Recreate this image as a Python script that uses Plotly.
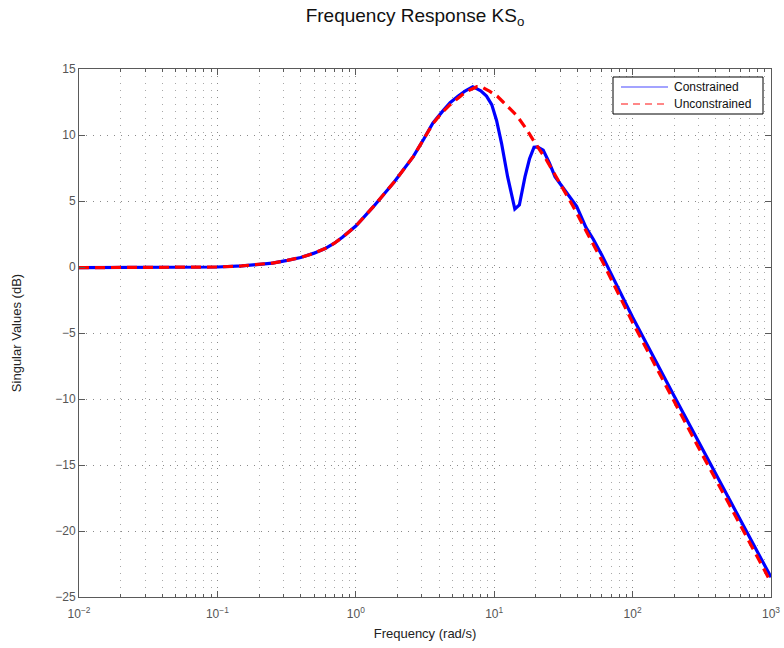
import plotly.graph_objects as go

# Singular values of KS_o, constrained design
freq_con = [0.01, 0.02, 0.05, 0.1, 0.15, 0.2, 0.25, 0.32, 0.4, 0.5, 0.6, 0.7, 0.8,
            1.0, 1.34, 1.9, 2.6, 3.1, 3.6, 4.2, 4.8, 5.5, 6.2, 7.0, 8.0, 8.8, 9.6,
            10.4, 11.3, 12.5, 13.4, 14.1, 15.2, 16.7, 18.0, 19.4, 20.5, 22.6, 25.0,
            27.5, 33.0, 39.4, 46.0, 52.0, 60.0, 100.0, 200.0, 300.0, 500.0, 1000.0]
sv_con = [-0.05, -0.05, -0.04, 0.0, 0.08, 0.18, 0.3, 0.5, 0.72, 1.05, 1.4, 1.8, 2.25,
          3.1, 4.57, 6.46, 8.36, 9.7, 10.9, 11.75, 12.45, 12.95, 13.35, 13.66, 13.35, 12.95, 12.3,
          11.1, 9.37, 6.84, 5.3, 4.39, 4.7, 6.84, 8.2, 9.07, 9.1, 8.86, 7.9,
          6.84, 5.7, 4.6, 3.0, 2.1, 0.9, -3.8, -9.8, -13.3, -17.6, -23.5]

# Singular values of KS_o, unconstrained design
freq_unc = [0.01, 0.02, 0.05, 0.1, 0.15, 0.2, 0.25, 0.32, 0.4, 0.5, 0.6, 0.7, 0.8,
            1.0, 1.34, 1.9, 2.6, 3.1, 3.6, 4.2, 4.8, 5.5, 6.2, 7.5, 8.1, 9.3, 10.5,
            11.6, 13.0, 14.5, 17.2, 19.7, 23.9, 29.9, 37.3, 47.9, 60.0, 100.0, 200.0,
            300.0, 500.0, 1000.0]
sv_unc = [-0.05, -0.05, -0.04, 0.0, 0.08, 0.18, 0.3, 0.5, 0.72, 1.05, 1.4, 1.8, 2.25,
          3.1, 4.57, 6.46, 8.36, 9.7, 10.85, 11.7, 12.3, 12.8, 13.25, 13.66, 13.65, 13.3, 12.95,
          12.5, 12.0, 11.5, 10.4, 9.4, 8.1, 6.34, 4.57, 2.4, 0.5, -4.2, -10.2,
          -13.7, -18.0, -23.9]

series_names = ["Constrained", "Unconstrained"]
series_colors = ["#0000ff", "#ff0000"]

x_tickvals = [0.01, 0.1, 1, 10, 100, 1000]
x_ticktext = ["10<sup>−2</sup>", "10<sup>−1</sup>", "10<sup>0</sup>",
              "10<sup>1</sup>", "10<sup>2</sup>", "10<sup>3</sup>"]
y_tickvals = [-25, -20, -15, -10, -5, 0, 5, 10, 15]

FONT = "Liberation Sans, Arial, Helvetica, sans-serif"
AXIS_COLOR = "#5a5a5a"
GRID_MAJOR = "#8a8a8a"
GRID_MINOR = "#a8a8a8"

W, H = 784, 648
L, R, T, B = 79, 13, 69, 51
PW, PH = W - L - R, H - T - B


def px_x(p):
    """pixel column -> paper x"""
    return (p - L) / PW


def px_y(p):
    """pixel row -> paper y"""
    return (H - B - p) / PH


fig = go.Figure()

fig.add_trace(go.Scatter(x=freq_con, y=sv_con, mode="lines", name=series_names[0],
                         line=dict(color=series_colors[0], width=3.2),
                         showlegend=False))
fig.add_trace(go.Scatter(x=freq_unc, y=sv_unc, mode="lines", name=series_names[1],
                         line=dict(color=series_colors[1], width=3.2, dash="10px,6px"),
                         showlegend=False))

# boxed legend in the upper-right corner, thin line samples
shapes = [dict(type="rect", xref="paper", yref="paper",
               x0=px_x(613), x1=px_x(763), y0=px_y(114), y1=px_y(77),
               line=dict(color="black", width=1), fillcolor="white", layer="above")]
annotations = []
legend_rows = [87, 104]
sample_styles = [dict(color="#4848ff", width=1.2),
                 dict(color="#ff6060", width=1.5, dash="7px,5px")]
for name, row, style in zip(series_names, legend_rows, sample_styles):
    shapes.append(dict(type="line", xref="paper", yref="paper",
                       x0=px_x(621), x1=px_x(668), y0=px_y(row), y1=px_y(row),
                       line=style, layer="above"))
    annotations.append(dict(text=name, xref="paper", yref="paper",
                            x=px_x(672), y=px_y(row), xanchor="left", yanchor="middle",
                            showarrow=False,
                            font=dict(family=FONT, size=12, color="#111111")))

fig.update_layout(
    width=W, height=H,
    margin=dict(l=L, r=R, t=T, b=B),
    paper_bgcolor="white", plot_bgcolor="white",
    font=dict(family=FONT, size=12, color="#222222"),
    title=dict(text="Frequency Response KS<sub>o</sub>",
               font=dict(family=FONT, size=19, color="#111111"),
               x=415 / W, xanchor="center", xref="container",
               y=1 - 9 / H, yanchor="top", yref="container"),
    showlegend=False,
    shapes=shapes,
    annotations=annotations,
)

fig.update_xaxes(
    type="log", range=[-2, 3], automargin=False,
    tickvals=x_tickvals, ticktext=x_ticktext,
    ticks="inside", ticklen=6, tickcolor=AXIS_COLOR, tickwidth=1,
    ticklabelstandoff=6,
    showline=True, linecolor=AXIS_COLOR, linewidth=1, mirror="ticks",
    showgrid=True, gridcolor=GRID_MAJOR, griddash="1px,6px", gridwidth=1,
    minor=dict(dtick="D1", ticks="inside", ticklen=3, tickcolor=AXIS_COLOR,
               showgrid=True, gridcolor=GRID_MINOR, griddash="1px,6px", gridwidth=1),
    tickfont=dict(family=FONT, size=12, color="#555555"),
    title=dict(text="Frequency (rad/s)", font=dict(family=FONT, size=13, color="#222222"),
               standoff=8),
    zeroline=False,
)

fig.update_yaxes(
    range=[-25, 15], tickvals=y_tickvals, automargin=False,
    ticks="inside", ticklen=6, tickcolor=AXIS_COLOR, tickwidth=1,
    showline=True, linecolor=AXIS_COLOR, linewidth=1, mirror="ticks",
    showgrid=True, gridcolor=GRID_MAJOR, griddash="1px,6px", gridwidth=1,
    tickfont=dict(family=FONT, size=12, color="#555555"),
    title=dict(text="Singular Values (dB)", font=dict(family=FONT, size=13, color="#222222"),
               standoff=30),
    zeroline=False,
)

fig.write_html("out.html")
